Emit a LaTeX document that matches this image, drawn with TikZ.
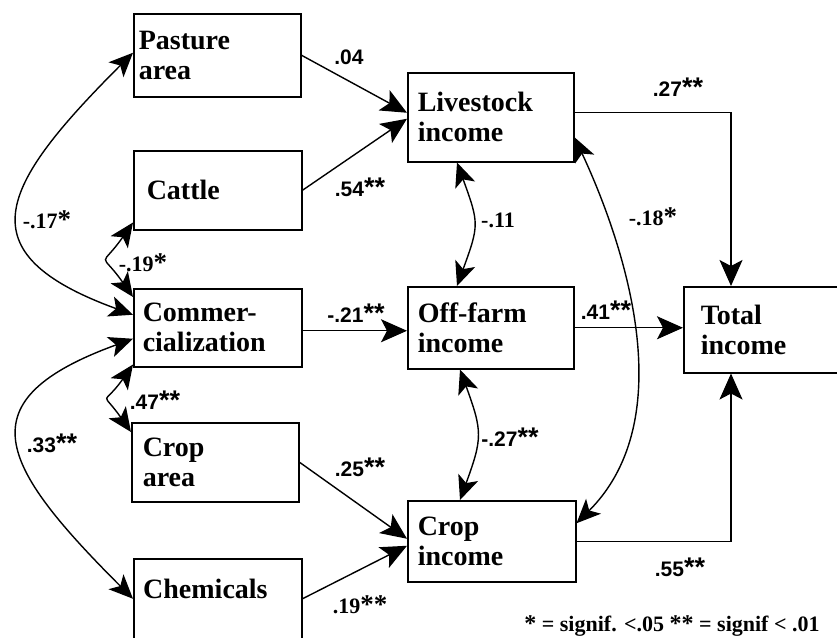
\documentclass[tikz,border=0pt]{standalone}
\usepackage{fontspec}
\setmainfont{Liberation Serif}
\setsansfont{Liberation Sans}
\usetikzlibrary{arrows.meta,calc}
\newcommand\stt{{\fontsize{27}{27}\selectfont\bfseries *}}
\newcommand\sttf{{\fontsize{24}{24}\selectfont\bfseries *}}
\begin{document}
\begin{tikzpicture}[x=1pt,y=1pt]
\tikzset{
 box/.style={draw, line width=1.5pt, anchor=north west, inner ysep=0pt, align=left, font=\fontsize{28}{30}\selectfont\bfseries},
 boxtext/.style={inner sep=0pt, font=\fontsize{28}{30}\selectfont\bfseries},
 lab/.style={font=\fontsize{21}{24}\selectfont\sffamily\bfseries, inner sep=0pt},
 labs/.style={font=\fontsize{22}{24}\selectfont\bfseries, inner sep=0pt},
 arr/.style={line width=1.4pt, -{Stealth[length=26pt,width=23pt,inset=6pt]}},
 darr/.style={line width=1.4pt, {Stealth[length=24pt,width=21pt,inset=6pt]}-{Stealth[length=24pt,width=21pt,inset=6pt]}},
}
\useasboundingbox (0,0) rectangle (837,-637);
\clip (0,0) rectangle (837,-637);
\fill[white] (0,0) rectangle (837,-637);

% boxes
\node[box, inner xsep=5pt, text width=157pt, minimum height=83pt] (past) at (133,-13) {Pasture\\area};
\node[box, inner xsep=13pt, text width=142pt, minimum height=79pt] (cattle) at (133,-150) {Cattle};
\node[box, inner xsep=9pt, text width=150pt, minimum height=78pt] (comm) at (133,-288) {Commer-\\cialization};
\node[box, inner xsep=11pt, text width=145pt, minimum height=79pt] (croparea) at (131,-422) {Crop\\area};
\node[box, minimum width=168pt, minimum height=102pt] (chem) at (133,-558) {};
\node[boxtext, anchor=base west] (chemtxt) at (143,-598) {Chemicals};
\node[box, inner xsep=10pt, text width=146pt, minimum height=89pt] (live) at (407,-72) {Livestock\\income};
\node[box, inner xsep=10pt, text width=146pt, minimum height=82pt] (off) at (407,-286) {Off-farm\\income};
\node[box, inner xsep=10pt, text width=148pt, minimum height=81pt] (crop) at (407,-500) {Crop\\income};
\node[box, inner xsep=17pt, text width=136pt, minimum height=86pt] (total) at (683,-286) {Total\\income};

% straight paths
\draw[arr] (past.east) -- ([yshift=4.5pt]live.west);
\draw[arr] (cattle.east) -- ([yshift=-1.5pt]live.west);
\draw[arr] ([yshift=-3pt]comm.east) -- ([yshift=-3pt]off.west);
\draw[arr] (croparea.east) -- ([yshift=2.5pt]crop.west);
\draw[arr] ([yshift=11pt]chem.east) -- ([yshift=-4.5pt]crop.west);
\draw[arr] ([yshift=4.5pt]live.east) -| ([xshift=48pt]total.north west);
\draw[arr] (off.east) -- (off.east -| total.west);
\draw[arr] (crop.east) -| ([xshift=48pt]total.south west);

% correlations
\draw[darr] ([yshift=2.5pt]past.west) to[out=225,in=160,out distance=190pt,in distance=180pt] ([yshift=13pt]comm.west);
\draw[darr] ([yshift=-11pt]comm.west) to[out=200,in=135,out distance=180pt,in distance=190pt] ([yshift=11pt]chem.west);
\draw[darr] ([yshift=8pt]cattle.south west) to[out=235,in=125,looseness=2] ([yshift=-9pt]comm.north west);
\draw[darr] ([yshift=3pt]comm.south west) to[out=235,in=125,looseness=2] ([yshift=-10pt]croparea.north west);
\draw[darr] ([xshift=50pt]live.south west) to[out=290,in=70,looseness=1.35] ([xshift=50pt]off.north west);
\draw[darr] ([xshift=53pt]off.south west) to[out=290,in=70,looseness=1.3] ([xshift=53pt]crop.north west);
\draw[darr] ([yshift=-20pt]live.east) to[out=295,in=45,out distance=89pt,in distance=160pt] ([yshift=18pt]crop.east);

% labels
\node[lab] (l1) at (349,-57) {.04};
\node[lab] (l2) at (360,-187) {.54\stt\stt};
\node[lab] (l3) at (356,-313) {-.21\stt\stt};
\node[lab] (l4) at (360,-467) {.25\stt\stt};
\node[labs] (l5) at (360,-605) {.19\stt\stt};
\node[lab] (l6) at (678,-87) {.27\stt\stt};
\node[lab] (l7) at (606,-310) {.41\stt\stt};
\node[lab] (l8) at (680,-567) {.55\stt\stt};
\node[labs] (l9) at (498,-220) {-.11};
\node[labs] (l10) at (653,-217) {-.18\stt};
\node[lab] (l11) at (510,-437) {-.27\stt\stt};
\node[labs] (l12) at (47,-220) {-.17\stt};
\node[labs] (l13) at (143,-263) {-.19\stt};
\node[lab] (l14) at (155,-400) {.47\stt\stt};
\node[lab] (l15) at (52,-443) {.33\stt\stt};
\node[labs, font=\fontsize{22}{24}\selectfont\bfseries, anchor=base] (foot) at (672,-631) {\sttf{} = signif. <.05 \sttf\sttf{} = signif < .01};
\end{tikzpicture}
\end{document}
